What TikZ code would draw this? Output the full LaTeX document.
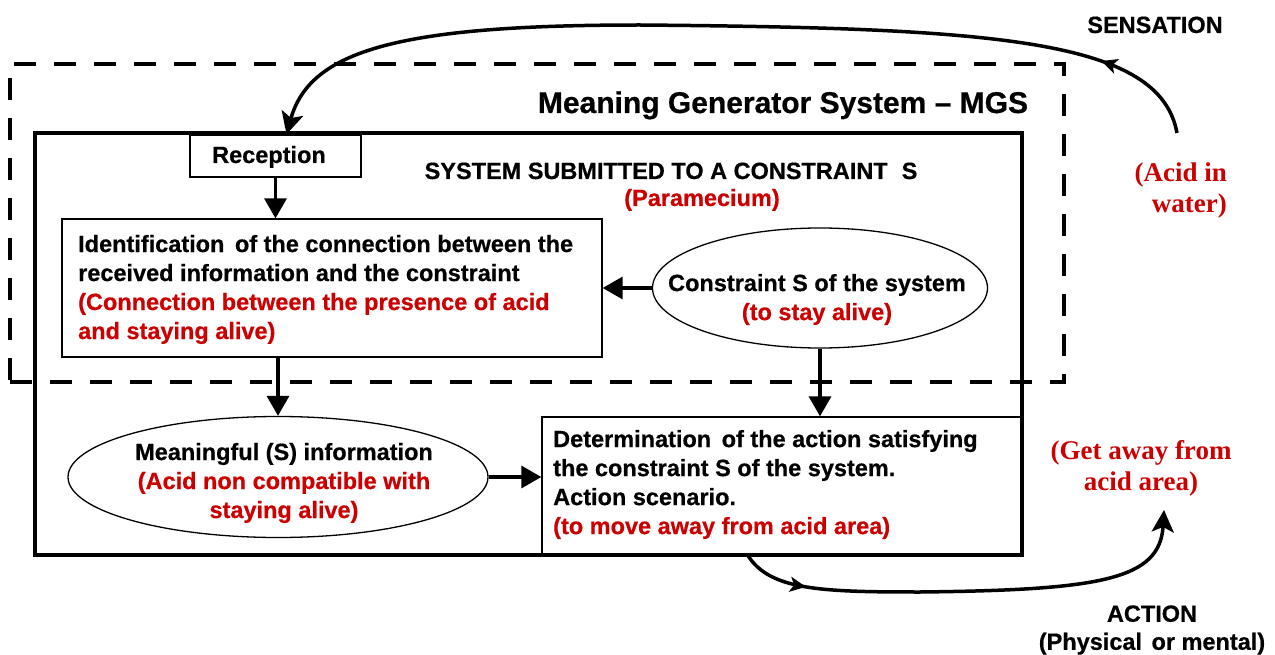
\documentclass[tikz,border=0pt]{standalone}
\usepackage{fontspec}
\setmainfont{Liberation Sans}[BoldFeatures={FakeBold=0.6}]
\newfontfamily\timesfont{Liberation Serif}
\usetikzlibrary{arrows.meta,decorations.markings,shapes.geometric}
\definecolor{redtxt}{RGB}{204,0,0}
\begin{document}
\begin{tikzpicture}[x=1pt,y=-1pt,
  txt/.style={inner sep=0pt, font=\fontsize{23.5}{29}\selectfont\bfseries},
  ttxt/.style={inner sep=0pt, text=redtxt, font=\timesfont\fontsize{27}{31}\selectfont\bfseries},
  thinbox/.style={draw, line width=1.3pt, inner sep=0pt},
  ebox/.style={draw, ellipse, line width=1.3pt, inner sep=0pt},
  arr/.style={line width=3.3pt, -{Triangle[length=20pt,width=22pt]}},
  curvarr/.style={line width=3.5pt, -{Stealth[length=22pt,width=22pt,inset=5pt]}},
  midarrow/.style={postaction={decorate}, decoration={markings, mark=at position #1 with {\arrow{Stealth[length=16pt,width=15pt,inset=4pt]}}}},
]
\useasboundingbox (0,0) rectangle (1275,655);

% frames
\node[draw, line width=4pt, minimum width=987pt, minimum height=422pt, inner sep=0pt] (sys) at (528.5,344) {};
\node[draw, line width=4.5pt, dash pattern=on 22pt off 18pt, minimum width=1054pt, minimum height=318pt, inner sep=0pt] (mgs) at (537,223) {};

% boxes
\node[thinbox, minimum width=171pt, minimum height=42pt] (rec) at (275.5,156) {};
\node[thinbox, minimum width=540pt, minimum height=138pt] (ident) at (332,288) {};
\node[thinbox, minimum width=480pt, minimum height=138pt] (det) at (782,486) {};
\node[ebox, minimum width=335pt, minimum height=120pt] (cons) at (820,288) {};
\node[ebox, minimum width=420pt, minimum height=121pt] (mean) at (278,477) {};

% texts
\node[txt, anchor=base, font=\fontsize{30}{36}\selectfont\bfseries] (titletxt) at (783,113) {Meaning Generator System – MGS};
\node[txt, anchor=base] (systxt) at (671,179) {SYSTEM SUBMITTED TO A CONSTRAINT\hspace{14pt}S};
\node[txt, anchor=base, text=redtxt] (paratxt) at (702,206) {(Paramecium)};
\node[txt, anchor=base] (rectxt) at (269,163) {Reception};
\node[txt, anchor=west, align=left] (identtxt) at (78,289.5) {Identification\hspace{4pt} of the connection between the\\received information and the constraint\\\textcolor{redtxt}{(Connection between the presence of acid}\\\textcolor{redtxt}{and staying alive)}};
\node[txt, align=center] (constxt) at (817,299.5) {Constraint S of the system\\\textcolor{redtxt}{(to stay alive)}};
\node[txt, align=center] (meantxt) at (284,483) {Meaningful (S) information\\\textcolor{redtxt}{(Acid non compatible with}\\\textcolor{redtxt}{staying alive)}};
\node[txt, anchor=west, align=left] (dettxt) at (553,484.5) {Determination\hspace{4pt} of the action satisfying\\the constraint S of the system.\\Action scenario.\\\textcolor{redtxt}{(to move away from acid area)}};
\node[txt, anchor=base] (senstxt) at (1155,33) {SENSATION};
\node[txt, align=center, font=\fontsize{23.5}{28}\selectfont\bfseries] (acttxt) at (1152,630) {ACTION\\(Physical\hspace{3pt} or mental)};
\node[ttxt, anchor=east, align=right] (acidtxt) at (1227,190.7) {(Acid in\\water)};
\node[ttxt, align=center] (awaytxt) at (1141,468.6) {(Get away from\\acid area)};

% straight connectors
\draw[arr] (rec.south) -- (rec.south |- ident.north);
\draw[arr] (cons.west) -- (cons.west -| ident.east);
\draw[arr] (mean.north |- ident.south) -- (mean.north);
\draw[arr] (cons.south) -- (cons.south |- det.north);
\draw[arr] (mean.east) -- (mean.east -| det.west);

% curved connectors
\coordinate (sstart) at (1177,133);
\coordinate (aend) at (1164,510);
\draw[curvarr, midarrow=110pt] (sstart) .. controls (1160,40) and (1000,28) .. (640,25) .. controls (400,25) and (310,50) .. ([xshift=11pt]rec.north);
\draw[curvarr, midarrow=68pt] ([xshift=-34pt]det.south) .. controls (770,590) and (820,592) .. (920,592) .. controls (1100,590) and (1160,580) .. (aend);
\end{tikzpicture}
\end{document}
